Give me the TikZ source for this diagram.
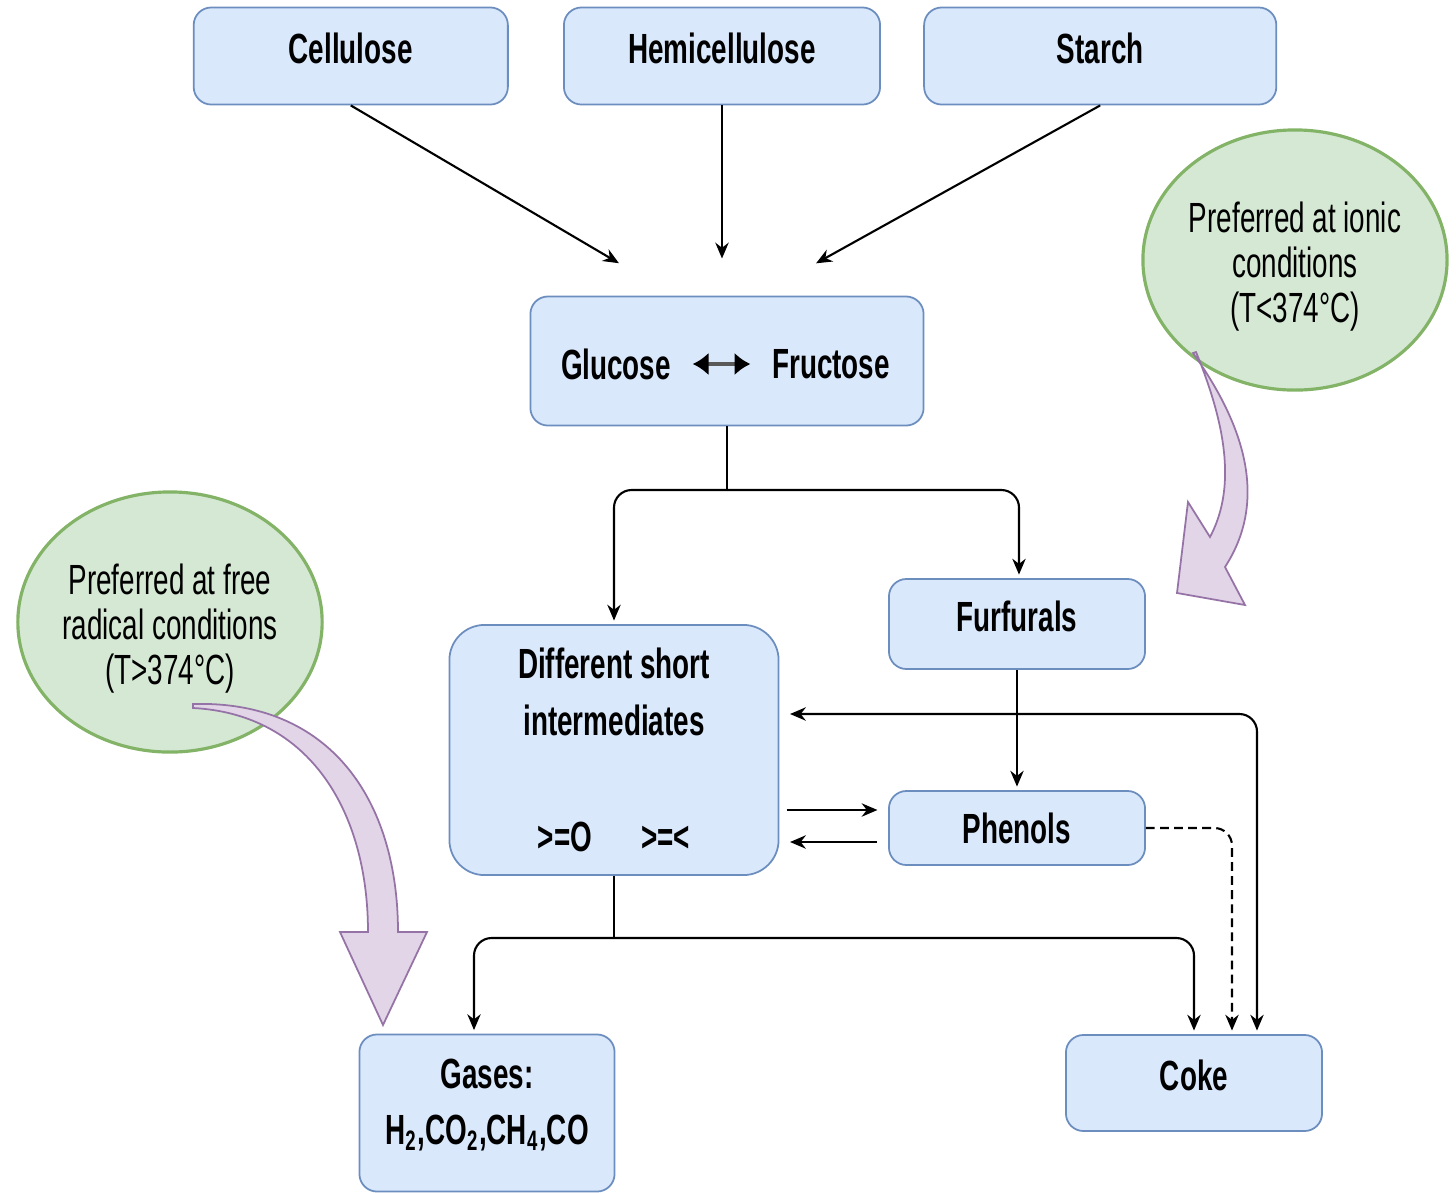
\documentclass[tikz,border=0pt]{standalone}
\usepackage{fontspec}
\setmainfont{Liberation Sans}[FakeStretch=0.66]
\usetikzlibrary{positioning,arrows.meta,shapes.geometric,calc}
\definecolor{boxfill}{HTML}{DAE8FC}
\definecolor{boxline}{HTML}{6C8EBF}
\definecolor{condfill}{HTML}{D5E8D4}
\definecolor{condline}{HTML}{82B366}
\definecolor{hintfill}{HTML}{E1D5E7}
\definecolor{hintline}{HTML}{9673A6}
\tikzset{>={Stealth[length=4.5pt,width=3.8pt]}}

\begin{document}
\begin{tikzpicture}[x=0.01cm,y=-0.01cm,node distance=3.71cm,
	box/.style = {rectangle,rounded corners=5pt,draw=boxline,fill=boxfill,line width=0.5pt,inner sep=0pt,align=center,font=\bfseries\fontsize{12}{16}\selectfont},
	lowbox/.style = {box,text depth=4.5pt},
	word/.style = {inner sep=0pt,font=\bfseries\fontsize{12}{16}\selectfont},
	cond/.style = {ellipse,draw=condline,fill=condfill,line width=0.9pt,inner sep=0pt,align=center,font=\fontsize{12}{12.8}\selectfont,minimum width=3.04cm,minimum height=2.6cm,text height=38pt},
	conn/.style = {->,shorten >=1pt,line width=0.6pt,rounded corners=5pt},
	hint/.style = {draw=hintline,fill=hintfill,line width=0.5pt}]
	\useasboundingbox (0,0) rectangle (1456,1193);
	
	\node[lowbox,minimum width=3.16cm,minimum height=0.97cm] (hemi) at (722,56) {Hemicellulose};
	\node[lowbox,minimum width=3.14cm,minimum height=0.97cm] [left of = hemi] (cell) {Cellulose};
	\node[lowbox,minimum width=3.52cm,minimum height=0.97cm] [right of = hemi,node distance=3.78cm] (starch) {Starch};
	\node[box,minimum width=3.93cm,minimum height=1.29cm] (gf) at (727,361) {};
	\node[word] (glc) at (616,364) {Glucose};
	\node[word] (frc) at (831,364) {Fructose};
	\node[box,minimum width=3.29cm,minimum height=2.5cm,rounded corners=10pt] (inter) at (614,750) {Different short\\intermediates\\[17pt]>=O\hspace{14pt}>=<};
	\node[lowbox,minimum width=2.56cm,minimum height=0.9cm] (furf) at (1017,624) {Furfurals};
	\node[box,minimum width=2.56cm,minimum height=0.74cm] (phen) at (1017,828) {Phenols};
	\node[box,minimum width=2.55cm,minimum height=1.57cm,text depth=6.5pt] (gas) at (487,1113) {Gases:\\H\textsubscript{2},CO\textsubscript{2},CH\textsubscript{4},CO};
	\node[lowbox,minimum width=2.56cm,minimum height=0.96cm] (coke) at (1194,1083) {Coke};
	\node[cond] (ionic) at (1295,260) {Preferred at ionic\\conditions\\(T<374°C)};
	\node[cond] (radical) at (170,622) {Preferred at free\\radical conditions\\(T>374°C)};
	
	\coordinate (inA) at (622,265);
	\coordinate (inB) at (722,262);
	\coordinate (inC) at (813,265);
	\coordinate (split1) at (727,490);
	\coordinate (split2) at (614,938);
	\coordinate (back) at (1257,714);
	
	\draw[conn] (cell.south) -- (inA);
	\draw[conn] (hemi.south) -- (inB);
	\draw[conn] (starch.south) -- (inC);
	\draw[{Latex[length=4.5pt,width=6.5pt,color=black]}-{Latex[length=4.5pt,width=6.5pt,color=black]},line width=1.3pt,gray!70!black,shorten <=6pt,shorten >=6pt] (glc) -- (frc);
	\draw[line width=0.6pt] (gf.south) -- (split1);
	\draw[conn] (split1) -| (inter.north);
	\draw[conn] (split1) -| ($(furf.north)+(2,0)$);
	\draw[conn] (furf) -- (phen);
	\draw[conn,<->,shorten <=3pt] ($(inter.east)+(0,-36)$) -- (back) -- (back |- coke.north);
	\draw[conn,shorten <=2pt,shorten >=3pt] ($(inter.east |- phen.west)+(0,-18)$) -- ($(phen.west)+(0,-18)$);
	\draw[conn,shorten <=3pt,shorten >=3pt] ($(phen.west)+(0,14)$) -- ($(inter.east |- phen.west)+(0,14)$);
	\draw[conn,dash pattern=on 2.5pt off 1.5pt] (phen.east) -| ($(coke.north)+(38,0)$);
	\draw[line width=0.6pt] (inter.south) -- (split2);
	\draw[conn] (split2) -| ($(gas.north)+(-13,0)$);
	\draw[conn] (split2) -| (coke.north);
	
	% block arrows from the conditions
	\draw[hint] (193,704) .. controls (330,700) and (398,800) .. (398,932) -- (427,932) -- (383,1025) -- (340,932) -- (368,932) .. controls (368,812) and (310,714) .. (193,708) -- cycle;
	\draw[hint] (1193,353) .. controls (1255,440) and (1262,510) .. (1225,567) -- (1245,605) -- (1177,593) -- (1188,502) -- (1210,537) .. controls (1235,490) and (1228,430) .. (1196,352) -- cycle;
\end{tikzpicture}
\end{document}
